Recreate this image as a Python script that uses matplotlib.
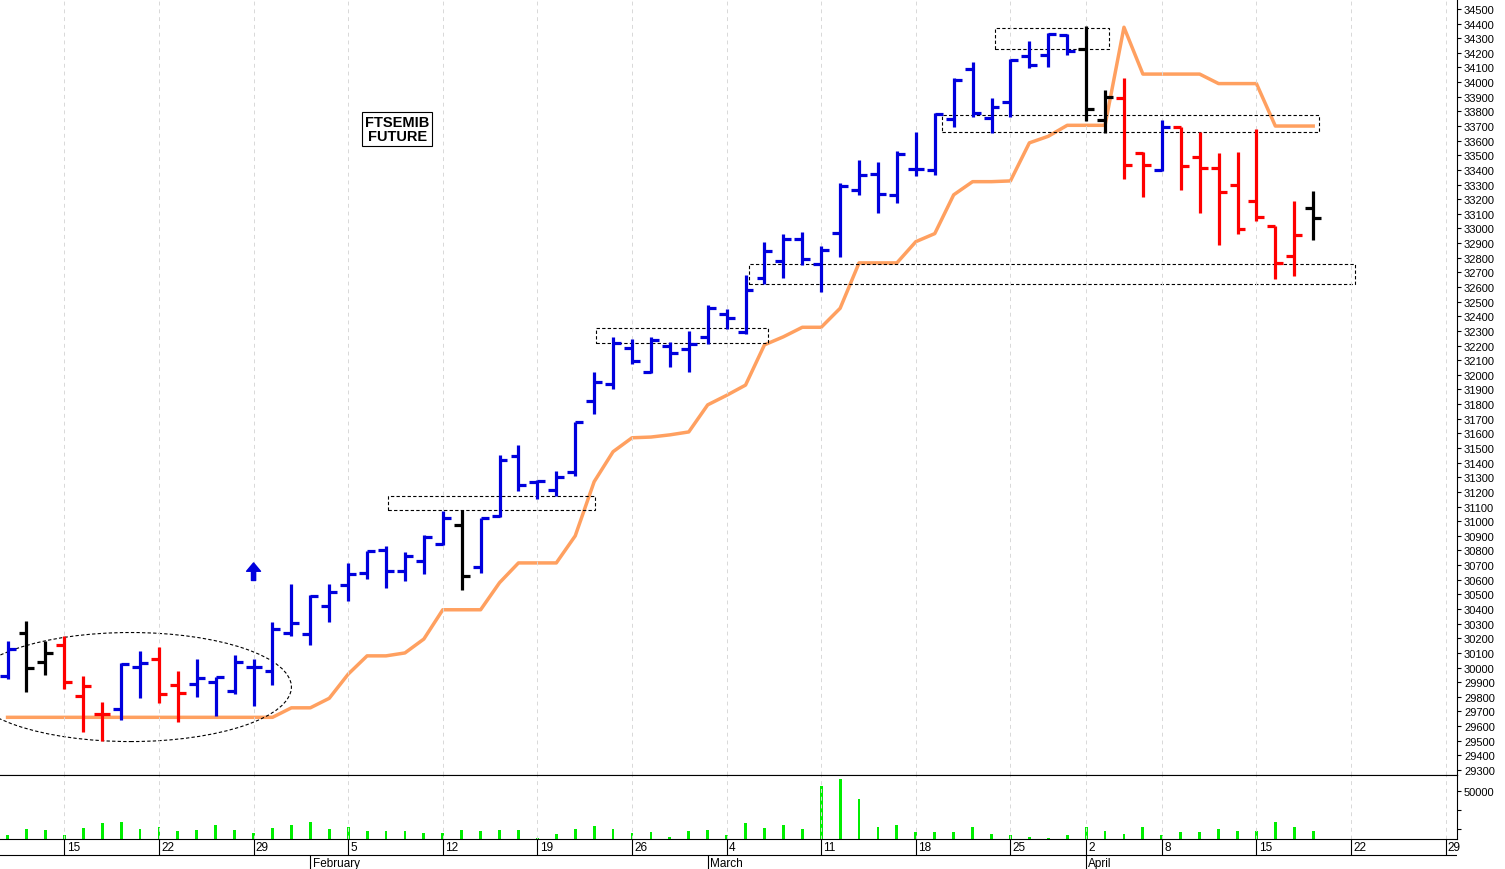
import matplotlib
matplotlib.use("Agg")
import matplotlib.pyplot as plt
from matplotlib.patches import Rectangle, Ellipse

plt.rcParams["font.family"] = ["Liberation Sans Narrow", "Liberation Sans", "DejaVu Sans"]

# OHLC per trading day, index 0 = 10 Jan 2024
opens = [29940, 30235, 30040, 30155, 29805, 29685, 29715, 30005, 30060, 29880,
         29890, 29900, 29840, 30005, 29975, 30235, 30230, 30420, 30565, 30645,
         30805, 30660, 30730, 30845, 30975, 30685, 31035, 31445, 31270, 31215,
         31335, 31820, 31940, 32185, 32020, 32195, 32175, 32260, 32415, 32295,
         32660, 32780, 32930, 32760, 32970, 33265, 33375, 33230, 33405, 33400,
         33750, 34090, 33755, 33865, 34180, 34185, 34320, 34225, 33740, 33890,
         33515, 33400, 33695, 33490, 33415, 33295, 33190, 33015, 32810, 33140]
highs = [30180, 30320, 30180, 30215, 29940, 29765, 30030, 30115, 30140, 29975,
         30060, 29935, 30085, 30060, 30310, 30570, 30495, 30570, 30715, 30795,
         30830, 30790, 30905, 31070, 31075, 31020, 31450, 31520, 31280, 31345,
         31680, 32020, 32260, 32245, 32260, 32225, 32300, 32475, 32450, 32680,
         32910, 32965, 32975, 32880, 33310, 33470, 33455, 33530, 33660, 33790,
         34030, 34140, 33890, 34160, 34280, 34335, 34330, 34385, 33945, 34030,
         33525, 33740, 33695, 33660, 33515, 33525, 33680, 33015, 33190, 33255]
lows = [29920, 29835, 29950, 29855, 29560, 29500, 29640, 29790, 29760, 29630,
        29800, 29670, 29820, 29735, 29880, 30215, 30155, 30310, 30455, 30605,
        30545, 30590, 30640, 30835, 30530, 30645, 31030, 31205, 31150, 31170,
        31310, 31735, 31905, 32075, 32015, 32055, 32020, 32210, 32315, 32280,
        32620, 32660, 32750, 32565, 32805, 33230, 33105, 33175, 33360, 33365,
        33695, 33760, 33655, 33760, 34095, 34105, 34185, 33735, 33655, 33340,
        33215, 33395, 33265, 33105, 32885, 32965, 33050, 32655, 32675, 32920]
closes = [30125, 29995, 30100, 29900, 29875, 29685, 30025, 30030, 29820, 29825,
          29930, 29935, 30040, 30005, 30265, 30305, 30490, 30515, 30640, 30795,
          30660, 30760, 30890, 31020, 30625, 31020, 31420, 31245, 31275, 31300,
          31680, 31950, 32220, 32095, 32240, 32150, 32210, 32455, 32390, 32580,
          32845, 32930, 32790, 32855, 33290, 33365, 33235, 33510, 33405, 33785,
          34015, 33790, 33830, 34150, 34115, 34330, 34215, 33815, 33900, 33435,
          33435, 33695, 33425, 33415, 33250, 32995, 33080, 32765, 32955, 33070]
bar_colors = (["b", "k", "k", "r", "r", "r", "b", "b", "r", "r"] + ["b"] * 14 + ["k"]
              + ["b"] * 32 + ["k", "k", "r", "r", "b"] + ["r"] * 7 + ["k"])
stop_line = ([29660] * 15 + [29725, 29725, 29790, 29955, 30080, 30080, 30100, 30195,
             30395, 30395, 30395, 30580, 30715, 30715, 30715, 30900, 31270, 31475,
             31570, 31575, 31590, 31610, 31795, 31860, 31930, 32205, 32260, 32325,
             32325, 32455, 32765, 32765, 32765, 32910, 32965, 33230, 33320, 33320,
             33325, 33585, 33630, 33705, 33705, 33705, 34375, 34055, 34055, 34055,
             34055, 33990, 33990, 33990, 33700, 33700, 33700])
volume = [4200, 10400, 9400, 4200, 11500, 16700, 17700, 10400, 12500, 8300,
          9400, 14600, 9400, 6300, 11500, 14600, 17700, 10400, 12500, 8300,
          8300, 8300, 6300, 6300, 9400, 8300, 9400, 9400, 1000, 5200,
          10400, 13500, 10400, 6300, 7300, 2100, 8300, 9400, 4200, 16700,
          11500, 14600, 10400, 55200, 62500, 41700, 12500, 14600, 7300, 7300,
          7300, 12500, 5200, 4200, 2100, 1000, 4200, 12500, 8300, 5200,
          12500, 4200, 7300, 7300, 10400, 8300, 8300, 17700, 12500, 8300]

week_idx = [3, 8, 13, 18, 23, 28, 33, 38, 43, 48, 53, 57, 61, 66, 71, 76]
week_lbl = ["15", "22", "29", "5", "12", "19", "26", "4", "11", "18", "25", "2", "8", "15", "22", "29"]
month_idx = [16, 37, 57]
month_lbl = ["February", "March", "April"]

cmap = {"b": "#0000dd", "r": "#ff0000", "k": "#000000"}
W, H = 1505, 870
xlim = (-0.4, 76.6)

fig = plt.figure(figsize=(15.05, 8.7), dpi=100)
ax = fig.add_axes([0, 94 / H, 1457 / W, 776 / H])
axv = fig.add_axes([0, 30 / H, 1457 / W, 64 / H])
axd = fig.add_axes([0, 0, 1457 / W, 30 / H])

for i in range(len(opens)):
    c = cmap[bar_colors[i]]
    ax.vlines(i, lows[i], highs[i], color=c, lw=2.3)
    ax.hlines(opens[i], i - 0.42, i, color=c, lw=2.3)
    ax.hlines(closes[i], i, i + 0.42, color=c, lw=2.3)
ax.plot(range(len(stop_line)), stop_line, color="#ffa060", lw=2.5, zorder=1)

# annotation boxes
boxes = [(20.1, 31.05, 31077, 31172), (31.1, 40.2, 32220, 32320),
         (39.2, 71.2, 32620, 32755), (49.4, 69.3, 33660, 33775),
         (52.2, 58.2, 34225, 34370)]
for x0, x1, y0, y1 in boxes:
    ax.add_patch(Rectangle((x0, y0), x1 - x0, y1 - y0, fill=False, ls=(0, (3, 2)), lw=0.8, ec="k"))
ax.add_patch(Ellipse((6.5, 29867), 17.0, 745, fill=False, ls=(0, (3, 2)), lw=0.8, ec="k"))
ax.annotate("", xy=(13, 30715), xytext=(13, 30595),
            arrowprops=dict(fc="#0000dd", ec="#0000dd", width=3, headwidth=10, headlength=6))
ax.text(20.6, 33680, "FTSEMIB\nFUTURE", ha="center", va="center", fontsize=10.5, fontweight="bold",
        family=["Liberation Sans", "DejaVu Sans"], linespacing=0.95,
        bbox=dict(boxstyle="square,pad=0.2", fc="white", ec="k", lw=0.8))

ax.set_xlim(*xlim)
ax.set_ylim(29266, 34568)
ax.set_yticks(range(29300, 34501, 100))
ax.yaxis.tick_right()
ax.tick_params(axis="y", labelsize=8, length=3, pad=2)
ax.set_xticks(week_idx)
ax.tick_params(axis="x", length=0, labelbottom=False)
ax.grid(axis="x", color="#d8d8d8", ls=(0, (4, 4)), lw=0.7)
ax.spines["left"].set_visible(False)
ax.spines["top"].set_visible(False)

axv.bar(range(len(volume)), volume, width=0.15, color="#00ee00")
axv.set_xlim(*xlim)
axv.set_ylim(0, 66700)
axv.yaxis.tick_right()
axv.set_yticks([10000, 30000, 50000])
axv.set_yticklabels(["", "", "50000"])
axv.tick_params(axis="y", labelsize=8, length=3, pad=2)
axv.set_xticks(week_idx)
axv.tick_params(axis="x", length=0, labelbottom=False)
axv.grid(axis="x", color="#d8d8d8", ls=(0, (4, 4)), lw=0.7)
axv.spines["left"].set_visible(False)

# date rows
axd.set_xlim(*xlim)
axd.set_ylim(0, 30)
axd.axis("off")
axd.axhline(14, color="k", lw=0.8)
for i, lbl in zip(week_idx, week_lbl):
    axd.vlines(i, 14, 30, color="k", lw=0.8)
    axd.text(i + 0.12, 22, lbl, fontsize=8.5, va="center", ha="left")
for i, lbl in zip(month_idx, month_lbl):
    axd.vlines(i, 0, 14, color="k", lw=0.8)
    axd.text(i + 0.12, 6, lbl, fontsize=8.5, va="center", ha="left")

fig.savefig("out.png", dpi=100)
